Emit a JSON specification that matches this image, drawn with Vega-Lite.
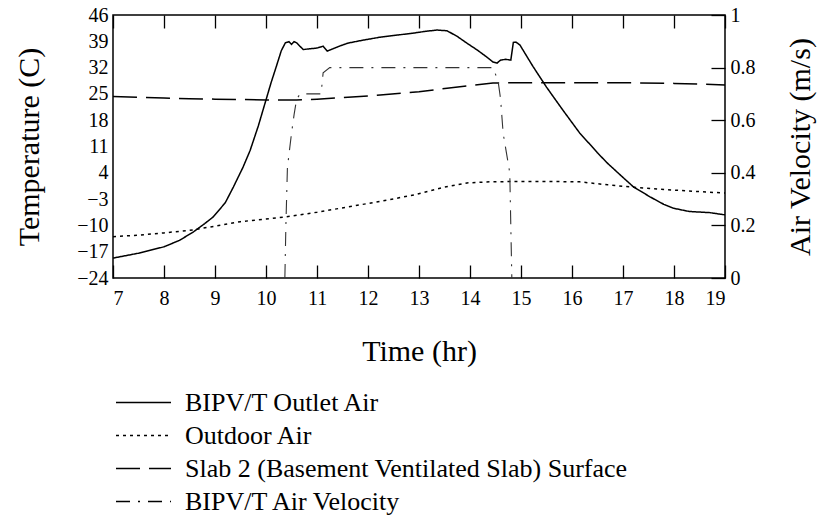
{
  "$schema": "https://vega.github.io/schema/vega-lite/v6.json",
  "autosize": "none",
  "width": 612,
  "height": 263,
  "padding": {"left": 113, "top": 15, "right": 101, "bottom": 244},
  "background": "white",
  "config": {
    "view": {"stroke": "black", "strokeWidth": 1.5},
    "font": "Liberation Serif",
    "axis": {"grid": false, "labelFont": "Liberation Serif", "titleFont": "Liberation Serif", "labelColor": "black", "titleColor": "black", "tickColor": "black", "tickWidth": 1.3, "domain": false, "labelFontSize": 20, "titleFontSize": 30, "titleFontWeight": "normal"},
    "legend": {"labelFont": "Liberation Serif", "labelFontSize": 26, "labelColor": "black", "symbolType": "stroke", "symbolSize": 3025, "symbolStrokeWidth": 1.3, "symbolStrokeColor": "black", "labelOffset": 13, "rowPadding": 0, "clipHeight": 33, "labelLimit": 700}
  },
  "datasets": {
    "temp": [
      {"series": "BIPV/T Outlet Air", "hour": 7.0, "value": -18.7},
      {"series": "BIPV/T Outlet Air", "hour": 7.5, "value": -17.4},
      {"series": "BIPV/T Outlet Air", "hour": 8.0, "value": -15.7},
      {"series": "BIPV/T Outlet Air", "hour": 8.3, "value": -14.0},
      {"series": "BIPV/T Outlet Air", "hour": 8.57, "value": -11.8},
      {"series": "BIPV/T Outlet Air", "hour": 8.8, "value": -9.5},
      {"series": "BIPV/T Outlet Air", "hour": 8.96, "value": -7.8},
      {"series": "BIPV/T Outlet Air", "hour": 9.2, "value": -4.0},
      {"series": "BIPV/T Outlet Air", "hour": 9.36, "value": 0.2},
      {"series": "BIPV/T Outlet Air", "hour": 9.55, "value": 5.5},
      {"series": "BIPV/T Outlet Air", "hour": 9.69, "value": 10.0},
      {"series": "BIPV/T Outlet Air", "hour": 9.85, "value": 16.5},
      {"series": "BIPV/T Outlet Air", "hour": 10.0, "value": 23.4},
      {"series": "BIPV/T Outlet Air", "hour": 10.1, "value": 28.0},
      {"series": "BIPV/T Outlet Air", "hour": 10.2, "value": 32.2},
      {"series": "BIPV/T Outlet Air", "hour": 10.3, "value": 36.5},
      {"series": "BIPV/T Outlet Air", "hour": 10.38, "value": 38.6},
      {"series": "BIPV/T Outlet Air", "hour": 10.45, "value": 38.9},
      {"series": "BIPV/T Outlet Air", "hour": 10.5, "value": 38.2},
      {"series": "BIPV/T Outlet Air", "hour": 10.55, "value": 38.9},
      {"series": "BIPV/T Outlet Air", "hour": 10.6, "value": 38.6},
      {"series": "BIPV/T Outlet Air", "hour": 10.73, "value": 36.8},
      {"series": "BIPV/T Outlet Air", "hour": 10.85, "value": 37.0},
      {"series": "BIPV/T Outlet Air", "hour": 11.0, "value": 37.2},
      {"series": "BIPV/T Outlet Air", "hour": 11.12, "value": 37.7},
      {"series": "BIPV/T Outlet Air", "hour": 11.2, "value": 36.4},
      {"series": "BIPV/T Outlet Air", "hour": 11.4, "value": 37.5},
      {"series": "BIPV/T Outlet Air", "hour": 11.6, "value": 38.5},
      {"series": "BIPV/T Outlet Air", "hour": 11.9, "value": 39.3},
      {"series": "BIPV/T Outlet Air", "hour": 12.24, "value": 40.1},
      {"series": "BIPV/T Outlet Air", "hour": 12.6, "value": 40.7},
      {"series": "BIPV/T Outlet Air", "hour": 12.9, "value": 41.2},
      {"series": "BIPV/T Outlet Air", "hour": 13.1, "value": 41.6},
      {"series": "BIPV/T Outlet Air", "hour": 13.35, "value": 42.0},
      {"series": "BIPV/T Outlet Air", "hour": 13.55, "value": 41.8},
      {"series": "BIPV/T Outlet Air", "hour": 13.75, "value": 40.3},
      {"series": "BIPV/T Outlet Air", "hour": 13.94, "value": 38.5},
      {"series": "BIPV/T Outlet Air", "hour": 14.15, "value": 36.6},
      {"series": "BIPV/T Outlet Air", "hour": 14.33, "value": 34.8},
      {"series": "BIPV/T Outlet Air", "hour": 14.45, "value": 33.5},
      {"series": "BIPV/T Outlet Air", "hour": 14.53, "value": 33.2},
      {"series": "BIPV/T Outlet Air", "hour": 14.6, "value": 34.0},
      {"series": "BIPV/T Outlet Air", "hour": 14.7, "value": 34.2},
      {"series": "BIPV/T Outlet Air", "hour": 14.8, "value": 34.0},
      {"series": "BIPV/T Outlet Air", "hour": 14.85, "value": 38.7},
      {"series": "BIPV/T Outlet Air", "hour": 14.9, "value": 38.8},
      {"series": "BIPV/T Outlet Air", "hour": 14.98, "value": 38.0},
      {"series": "BIPV/T Outlet Air", "hour": 15.1, "value": 35.3},
      {"series": "BIPV/T Outlet Air", "hour": 15.24, "value": 32.2},
      {"series": "BIPV/T Outlet Air", "hour": 15.5, "value": 26.8},
      {"series": "BIPV/T Outlet Air", "hour": 15.82, "value": 20.7},
      {"series": "BIPV/T Outlet Air", "hour": 16.15, "value": 14.6},
      {"series": "BIPV/T Outlet Air", "hour": 16.35, "value": 11.6},
      {"series": "BIPV/T Outlet Air", "hour": 16.5, "value": 9.3},
      {"series": "BIPV/T Outlet Air", "hour": 16.7, "value": 6.5},
      {"series": "BIPV/T Outlet Air", "hour": 16.9, "value": 4.0},
      {"series": "BIPV/T Outlet Air", "hour": 17.2, "value": 0.3},
      {"series": "BIPV/T Outlet Air", "hour": 17.53, "value": -2.4},
      {"series": "BIPV/T Outlet Air", "hour": 17.8, "value": -4.4},
      {"series": "BIPV/T Outlet Air", "hour": 17.98, "value": -5.4},
      {"series": "BIPV/T Outlet Air", "hour": 18.3, "value": -6.3},
      {"series": "BIPV/T Outlet Air", "hour": 18.7, "value": -6.6},
      {"series": "BIPV/T Outlet Air", "hour": 19.0, "value": -7.2},
      {"series": "Outdoor Air", "hour": 7.0, "value": -13.0},
      {"series": "Outdoor Air", "hour": 7.5, "value": -12.6},
      {"series": "Outdoor Air", "hour": 8.0, "value": -12.0},
      {"series": "Outdoor Air", "hour": 8.57, "value": -11.2},
      {"series": "Outdoor Air", "hour": 9.0, "value": -10.2},
      {"series": "Outdoor Air", "hour": 9.5, "value": -9.0},
      {"series": "Outdoor Air", "hour": 10.0, "value": -8.3},
      {"series": "Outdoor Air", "hour": 10.35, "value": -7.8},
      {"series": "Outdoor Air", "hour": 11.0, "value": -6.5},
      {"series": "Outdoor Air", "hour": 11.6, "value": -5.1},
      {"series": "Outdoor Air", "hour": 12.24, "value": -3.6},
      {"series": "Outdoor Air", "hour": 12.9, "value": -1.9},
      {"series": "Outdoor Air", "hour": 13.5, "value": 0.2},
      {"series": "Outdoor Air", "hour": 13.94, "value": 1.3},
      {"series": "Outdoor Air", "hour": 14.4, "value": 1.6},
      {"series": "Outdoor Air", "hour": 15.0, "value": 1.7},
      {"series": "Outdoor Air", "hour": 15.5, "value": 1.7},
      {"series": "Outdoor Air", "hour": 16.15, "value": 1.6},
      {"series": "Outdoor Air", "hour": 16.7, "value": 0.8},
      {"series": "Outdoor Air", "hour": 17.33, "value": 0.0},
      {"series": "Outdoor Air", "hour": 18.0, "value": -0.6},
      {"series": "Outdoor Air", "hour": 19.0, "value": -1.4},
      {"series": "Slab 2 (Basement Ventilated Slab) Surface", "hour": 7.0, "value": 24.3},
      {"series": "Slab 2 (Basement Ventilated Slab) Surface", "hour": 7.5, "value": 24.1},
      {"series": "Slab 2 (Basement Ventilated Slab) Surface", "hour": 8.0, "value": 23.9},
      {"series": "Slab 2 (Basement Ventilated Slab) Surface", "hour": 8.5, "value": 23.7},
      {"series": "Slab 2 (Basement Ventilated Slab) Surface", "hour": 9.0, "value": 23.6},
      {"series": "Slab 2 (Basement Ventilated Slab) Surface", "hour": 9.5, "value": 23.5},
      {"series": "Slab 2 (Basement Ventilated Slab) Surface", "hour": 10.0, "value": 23.4},
      {"series": "Slab 2 (Basement Ventilated Slab) Surface", "hour": 10.6, "value": 23.4},
      {"series": "Slab 2 (Basement Ventilated Slab) Surface", "hour": 11.0, "value": 23.6},
      {"series": "Slab 2 (Basement Ventilated Slab) Surface", "hour": 11.5, "value": 24.0},
      {"series": "Slab 2 (Basement Ventilated Slab) Surface", "hour": 12.24, "value": 24.7},
      {"series": "Slab 2 (Basement Ventilated Slab) Surface", "hour": 13.0, "value": 25.6},
      {"series": "Slab 2 (Basement Ventilated Slab) Surface", "hour": 13.55, "value": 26.5},
      {"series": "Slab 2 (Basement Ventilated Slab) Surface", "hour": 14.0, "value": 27.2},
      {"series": "Slab 2 (Basement Ventilated Slab) Surface", "hour": 14.45, "value": 27.9},
      {"series": "Slab 2 (Basement Ventilated Slab) Surface", "hour": 15.0, "value": 28.0},
      {"series": "Slab 2 (Basement Ventilated Slab) Surface", "hour": 16.0, "value": 28.0},
      {"series": "Slab 2 (Basement Ventilated Slab) Surface", "hour": 17.0, "value": 28.0},
      {"series": "Slab 2 (Basement Ventilated Slab) Surface", "hour": 18.0, "value": 27.8},
      {"series": "Slab 2 (Basement Ventilated Slab) Surface", "hour": 18.5, "value": 27.6},
      {"series": "Slab 2 (Basement Ventilated Slab) Surface", "hour": 19.0, "value": 27.4}
    ],
    "vel": [
      {"series": "BIPV/T Air Velocity", "hour": 10.37, "value": 0.0},
      {"series": "BIPV/T Air Velocity", "hour": 10.39, "value": 0.2},
      {"series": "BIPV/T Air Velocity", "hour": 10.42, "value": 0.42},
      {"series": "BIPV/T Air Velocity", "hour": 10.5, "value": 0.55},
      {"series": "BIPV/T Air Velocity", "hour": 10.55, "value": 0.62},
      {"series": "BIPV/T Air Velocity", "hour": 10.6, "value": 0.68},
      {"series": "BIPV/T Air Velocity", "hour": 10.67, "value": 0.7},
      {"series": "BIPV/T Air Velocity", "hour": 11.08, "value": 0.7},
      {"series": "BIPV/T Air Velocity", "hour": 11.12, "value": 0.78},
      {"series": "BIPV/T Air Velocity", "hour": 11.25, "value": 0.8},
      {"series": "BIPV/T Air Velocity", "hour": 14.45, "value": 0.8},
      {"series": "BIPV/T Air Velocity", "hour": 14.55, "value": 0.75},
      {"series": "BIPV/T Air Velocity", "hour": 14.6, "value": 0.68},
      {"series": "BIPV/T Air Velocity", "hour": 14.65, "value": 0.55},
      {"series": "BIPV/T Air Velocity", "hour": 14.78, "value": 0.4},
      {"series": "BIPV/T Air Velocity", "hour": 14.82, "value": 0.0}
    ]
  },
  "layer": [
    {
      "data": {"name": "temp"},
      "mark": {"type": "line", "color": "black", "strokeWidth": 1.5, "clip": true},
      "encoding": {
        "x": {"field": "hour", "type": "quantitative", "scale": {"domain": [7, 19], "nice": false},
          "axis": {"orient": "bottom", "values": [7,8,9,10,11,12,13,14,15,16,17,18,19], "tickSize": -13, "labelPadding": 23, "title": "Time (hr)", "titlePadding": 28}},
        "y": {"field": "value", "type": "quantitative", "scale": {"domain": [-24, 46], "nice": false, "zero": false},
          "axis": {"orient": "left", "values": [-24,-17,-10,-3,4,11,18,25,32,39,46], "format": "d", "ticks": false, "labelPadding": 5, "title": "Temperature (C)", "titlePadding": 32}},
        "strokeDash": {"field": "series", "type": "nominal",
          "scale": {"domain": ["BIPV/T Outlet Air", "Outdoor Air", "Slab 2 (Basement Ventilated Slab) Surface", "BIPV/T Air Velocity"],
                    "range": [[1, 0], [3, 4], [24, 9], [14, 8, 2, 8]]},
          "legend": {"orient": "none", "legendX": 2, "legendY": 371, "title": null, "direction": "vertical"}},
        "order": {"field": "hour", "type": "quantitative"}
      }
    },
    {
      "data": {"name": "vel"},
      "mark": {"type": "line", "color": "#333333", "strokeWidth": 1.1, "clip": true},
      "encoding": {
        "x": {"field": "hour", "type": "quantitative", "scale": {"domain": [7, 19], "nice": false},
          "axis": {"orient": "top", "values": [7,8,9,10,11,12,13,14,15,16,17,18,19], "tickSize": -13, "labels": false, "title": null}},
        "y": {"field": "value", "type": "quantitative", "scale": {"domain": [0, 1], "nice": false},
          "axis": {"orient": "right", "values": [0, 0.2, 0.4, 0.6, 0.8, 1], "format": ".1~f", "tickSize": -14, "labelPadding": 19, "title": "Air Velocity (m/s)", "titleAngle": 270, "titleBaseline": "top", "titlePadding": 30}},
        "strokeDash": {"field": "series", "type": "nominal"},
        "order": {"field": "hour", "type": "quantitative"}
      }
    }
  ],
  "resolve": {"scale": {"y": "independent"}, "axis": {"x": "independent", "y": "independent"}}
}
